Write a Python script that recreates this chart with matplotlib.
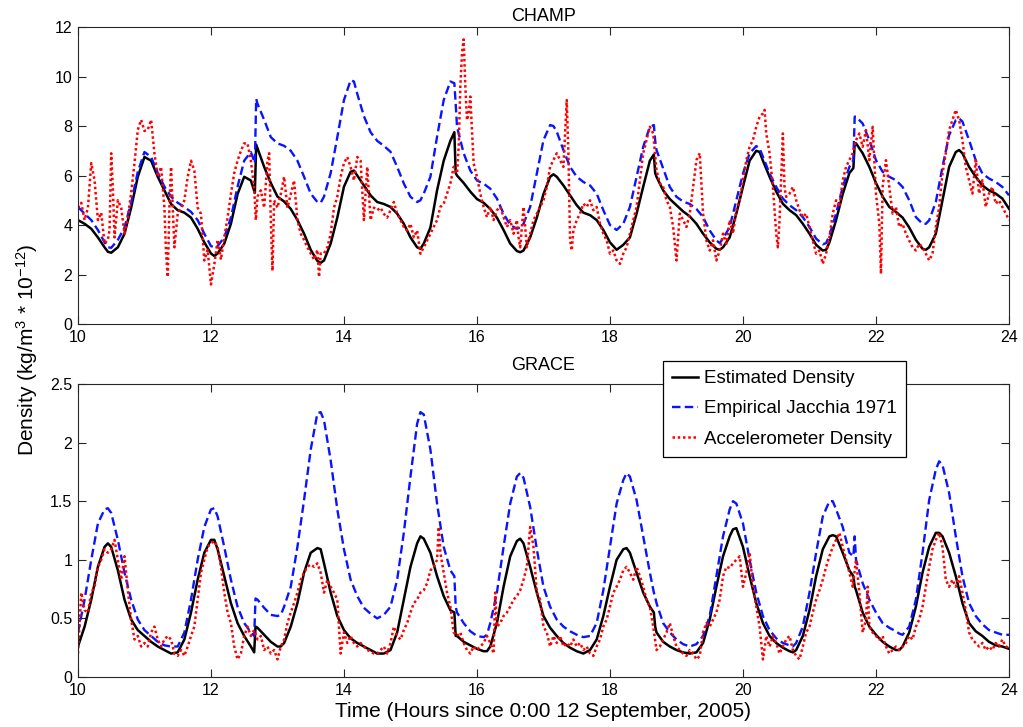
import numpy as np
import matplotlib
matplotlib.use("Agg")
import matplotlib.pyplot as plt

plt.rcParams['font.family'] = ['Liberation Sans', 'DejaVu Sans']
plt.rcParams['mathtext.fontset'] = 'custom'
plt.rcParams['mathtext.rm'] = 'Liberation Sans'
plt.rcParams['mathtext.it'] = 'Liberation Sans:italic'

# ---------------- CHAMP (density in 1e-12 kg/m^3) ----------------
champ_t = [
    10.0, 10.1, 10.2, 10.3, 10.4, 10.45, 10.5, 10.6, 10.7, 10.8, 10.9, 11.0, 11.1, 11.2, 11.3,
    11.4, 11.5, 11.6, 11.7, 11.8, 11.9, 12.0, 12.05, 12.1, 12.2, 12.3, 12.4, 12.5, 12.6, 12.66,
    12.68, 12.7, 12.8, 12.9, 13.0, 13.1, 13.2, 13.3, 13.4, 13.5, 13.6, 13.65, 13.7, 13.8, 13.9,
    14.0, 14.1, 14.15, 14.2, 14.3, 14.4, 14.5, 14.6, 14.7, 14.8, 14.9, 15.0, 15.1, 15.15, 15.2,
    15.3, 15.4, 15.5, 15.6, 15.66, 15.68, 15.7, 15.8, 15.9, 16.0, 16.1, 16.2, 16.3, 16.4, 16.5,
    16.6, 16.65, 16.7, 16.8, 16.9, 17.0, 17.1, 17.15, 17.2, 17.3, 17.4, 17.5, 17.6, 17.7, 17.8,
    17.9, 18.0, 18.1, 18.2, 18.3, 18.4, 18.5, 18.6, 18.66, 18.68, 18.7, 18.8, 18.9, 19.0, 19.1,
    19.2, 19.3, 19.4, 19.5, 19.6, 19.65, 19.7, 19.8, 19.9, 20.0, 20.1, 20.2, 20.25, 20.3, 20.4,
    20.5, 20.6, 20.7, 20.8, 20.9, 21.0, 21.1, 21.2, 21.25, 21.3, 21.4, 21.5, 21.6, 21.66, 21.68,
    21.7, 21.8, 21.9, 22.0, 22.1, 22.2, 22.3, 22.4, 22.5, 22.6, 22.7, 22.75, 22.8, 22.9, 23.0,
    23.1, 23.2, 23.25, 23.3, 23.4, 23.5, 23.6, 23.7, 23.8, 23.9, 24.0]
champ_est = [
    4.2, 4.05, 3.85, 3.5, 3.1, 2.92, 2.88, 3.1, 3.65, 4.7, 5.95, 6.75, 6.6, 5.95, 5.4,
    4.85, 4.6, 4.5, 4.3, 3.85, 3.3, 2.85, 2.75, 2.85, 3.25, 4.05, 5.25, 5.95, 5.8, 5.3,
    7.25, 7.1, 6.35, 5.7, 5.15, 4.95, 4.65, 4.2, 3.65, 3.0, 2.55, 2.47, 2.57, 3.25, 4.3,
    5.55, 6.15, 6.2, 6.0, 5.6, 5.2, 4.93, 4.85, 4.73, 4.46, 4.05, 3.5, 3.1, 3.04, 3.25,
    3.9, 5.4, 6.6, 7.4, 7.75, 6.1, 6.0, 5.7, 5.35, 5.05, 4.9, 4.65, 4.3, 3.8, 3.25,
    2.95, 2.9, 2.97, 3.5, 4.3, 5.25, 5.95, 6.05, 5.95, 5.6, 5.2, 4.8, 4.5, 4.4, 4.2,
    3.8, 3.3, 3.0, 3.2, 3.5, 4.46, 5.55, 6.6, 6.85, 6.1, 5.95, 5.4, 5.05, 4.8, 4.55,
    4.35, 4.05, 3.65, 3.3, 3.04, 3.0, 3.1, 3.5, 4.46, 5.55, 6.6, 7.0, 6.95, 6.6, 5.95,
    5.35, 4.86, 4.6, 4.4, 4.05, 3.65, 3.2, 2.97, 3.0, 3.3, 4.2, 5.25, 6.1, 6.3, 7.3,
    7.3, 6.9, 6.35, 5.7, 5.15, 4.73, 4.53, 4.3, 3.9, 3.4, 3.04, 3.0, 3.1, 3.65, 5.0,
    6.35, 6.95, 7.03, 6.9, 6.35, 5.95, 5.6, 5.4, 5.27, 5.07, 4.66]
champ_jacchia = [
    4.73, 4.46, 4.2, 3.8, 3.3, 3.1, 3.08, 3.4, 3.9, 4.9, 6.15, 6.95, 6.75, 6.1, 5.55,
    5.15, 4.9, 4.73, 4.53, 4.2, 3.65, 3.15, 3.1, 3.15, 3.5, 4.3, 5.55, 6.6, 6.95, 6.5,
    9.1, 8.9, 8.25, 7.55, 7.3, 7.2, 7.0, 6.6, 5.95, 5.27, 4.93, 4.9, 5.15, 6.1, 7.55,
    9.05, 9.85, 9.8, 9.3, 8.4, 7.75, 7.4, 7.2, 6.96, 6.35, 5.68, 5.14, 4.93, 5.0, 5.27,
    5.95, 7.57, 9.05, 9.8, 9.73, 8.9, 7.97, 6.9, 6.2, 5.8, 5.67, 5.47, 5.07, 4.46, 4.0,
    3.85, 3.9, 4.05, 4.73, 6.08, 7.43, 8.04, 8.0, 7.77, 7.03, 6.35, 5.95, 5.74, 5.6, 5.27,
    4.6, 4.0, 3.8, 4.05, 4.73, 5.95, 7.16, 7.97, 8.04, 7.4, 7.03, 6.28, 5.54, 5.14, 4.95,
    4.85, 4.65, 4.32, 3.78, 3.38, 3.27, 3.45, 3.92, 5.0, 6.08, 6.9, 7.19, 7.1, 6.76, 6.08,
    5.54, 5.07, 4.8, 4.6, 4.32, 3.92, 3.45, 3.22, 3.27, 3.58, 4.46, 5.54, 6.35, 6.62, 8.38,
    8.38, 8.1, 7.43, 6.62, 6.15, 5.95, 5.81, 5.54, 5.0, 4.32, 4.05, 4.05, 4.19, 4.93, 6.35,
    7.63, 8.24, 8.31, 8.18, 7.43, 6.62, 6.08, 5.88, 5.74, 5.54, 5.2]

champ_acc_t = [
    10.0, 10.05, 10.1, 10.15, 10.2, 10.25, 10.3, 10.35, 10.4, 10.45, 10.475, 10.5, 10.525, 10.55,
    10.6, 10.65, 10.7, 10.75, 10.8, 10.85, 10.9, 10.95, 11.0, 11.05, 11.1, 11.15, 11.2, 11.25,
    11.3, 11.325, 11.35, 11.375, 11.4, 11.45, 11.5, 11.55, 11.6, 11.65, 11.7, 11.75, 11.8, 11.85,
    11.9, 11.95, 12.0, 12.05, 12.1, 12.15, 12.2, 12.25, 12.3, 12.35, 12.4, 12.45, 12.5, 12.55,
    12.6, 12.65, 12.675, 12.7, 12.75, 12.8, 12.85, 12.875, 12.9, 12.925, 12.95, 13.0, 13.05, 13.1,
    13.15, 13.2, 13.25, 13.3, 13.35, 13.4, 13.45, 13.5, 13.55, 13.6, 13.625, 13.65, 13.7, 13.75,
    13.8, 13.85, 13.9, 13.95, 14.0, 14.05, 14.1, 14.15, 14.2, 14.25, 14.3, 14.35, 14.4, 14.45,
    14.5, 14.55, 14.6, 14.65, 14.7, 14.75, 14.8, 14.85, 14.9, 14.95, 15.0, 15.05, 15.1, 15.15,
    15.2, 15.25, 15.3, 15.35, 15.4, 15.45, 15.5, 15.55, 15.6, 15.65, 15.7, 15.725, 15.75, 15.775,
    15.8, 15.825, 15.85, 15.875, 15.9, 15.95, 16.0, 16.05, 16.1, 16.15, 16.2, 16.25, 16.3, 16.35,
    16.4, 16.45, 16.5, 16.55, 16.6, 16.625, 16.65, 16.7, 16.75, 16.8, 16.85, 16.9, 16.95, 17.0,
    17.05, 17.1, 17.15, 17.2, 17.25, 17.3, 17.35, 17.375, 17.4, 17.425, 17.45, 17.5, 17.55, 17.6,
    17.65, 17.7, 17.75, 17.8, 17.85, 17.9, 17.95, 18.0, 18.05, 18.1, 18.15, 18.2, 18.25, 18.3,
    18.35, 18.4, 18.45, 18.5, 18.55, 18.6, 18.65, 18.7, 18.75, 18.8, 18.85, 18.9, 18.95, 19.0,
    19.05, 19.1, 19.15, 19.2, 19.25, 19.3, 19.35, 19.4, 19.45, 19.5, 19.55, 19.6, 19.65, 19.7,
    19.75, 19.8, 19.85, 19.9, 19.95, 20.0, 20.05, 20.1, 20.15, 20.2, 20.25, 20.3, 20.325, 20.35,
    20.4, 20.45, 20.5, 20.525, 20.55, 20.6, 20.625, 20.65, 20.7, 20.75, 20.8, 20.85, 20.9, 20.95,
    21.0, 21.05, 21.1, 21.15, 21.2, 21.25, 21.3, 21.35, 21.4, 21.45, 21.5, 21.55, 21.6, 21.65,
    21.7, 21.75, 21.8, 21.85, 21.9, 21.95, 22.0, 22.05, 22.075, 22.1, 22.15, 22.2, 22.25, 22.3,
    22.35, 22.4, 22.45, 22.5, 22.55, 22.6, 22.65, 22.7, 22.75, 22.8, 22.85, 22.9, 22.95, 23.0,
    23.05, 23.1, 23.15, 23.2, 23.25, 23.3, 23.35, 23.4, 23.45, 23.5, 23.55, 23.6, 23.65, 23.7,
    23.75, 23.8, 23.85, 23.9, 23.95, 24.0]
champ_acc = [
    4.7, 4.9, 4.2, 4.7, 6.5, 5.8, 4.2, 4.5, 3.25, 3.4, 3.8, 6.9, 5.5, 3.5,
    5.0, 4.7, 3.65, 4.3, 5.3, 6.5, 7.85, 8.25, 7.8, 7.85, 8.25, 6.9, 5.95, 6.35,
    4.7, 2.85, 1.9, 4.7, 6.35, 3.1, 4.45, 4.7, 5.0, 5.95, 6.6, 6.2, 4.7, 4.45,
    2.57, 3.0, 1.6, 2.4, 3.4, 2.6, 3.5, 4.3, 5.25, 6.1, 6.6, 7.0, 7.3, 7.3,
    6.6, 5.5, 4.2, 5.15, 5.4, 4.7, 6.6, 6.9, 4.2, 2.15, 5.0, 4.7, 5.25, 5.95,
    4.7, 5.25, 5.8, 4.2, 3.65, 3.4, 3.1, 2.85, 2.6, 3.0, 1.9, 2.85, 2.85, 3.1,
    3.65, 4.7, 5.15, 5.95, 6.5, 6.75, 6.35, 5.8, 6.75, 6.6, 4.2, 6.35, 4.2, 4.7,
    4.6, 4.7, 4.45, 4.3, 4.6, 4.93, 4.46, 4.2, 3.92, 3.78, 4.05, 3.5, 3.78, 2.84,
    3.1, 3.38, 3.65, 3.92, 4.2, 4.73, 4.86, 5.27, 5.68, 6.35, 6.08, 7.16, 9.6, 10.95,
    11.5, 9.6, 8.24, 8.5, 9.19, 6.49, 5.95, 5.27, 4.73, 4.32, 4.73, 4.2, 4.6, 4.73,
    4.32, 3.92, 4.2, 3.65, 4.2, 3.5, 3.1, 4.73, 3.1, 3.65, 4.2, 4.46, 4.73, 5.0,
    5.54, 6.35, 6.62, 6.9, 6.62, 6.35, 9.05, 6.9, 3.38, 2.97, 3.78, 4.2, 4.46, 4.86,
    4.73, 5.0, 4.6, 4.73, 4.05, 3.65, 3.38, 2.84, 2.97, 2.57, 2.43, 2.84, 3.1, 3.65,
    4.2, 4.73, 5.81, 6.9, 7.43, 7.97, 7.7, 6.22, 5.68, 5.54, 5.0, 4.73, 3.92, 2.57,
    4.46, 4.2, 3.92, 4.46, 5.54, 6.62, 6.9, 4.46, 3.38, 2.97, 3.38, 2.57, 2.97, 3.65,
    3.24, 4.2, 3.65, 4.6, 5.0, 5.81, 6.62, 7.16, 7.43, 7.97, 8.38, 8.51, 8.65, 7.7,
    6.9, 5.54, 3.65, 3.1, 4.2, 7.7, 5.5, 5.14, 5.27, 5.54, 5.0, 4.6, 4.32, 4.46,
    3.92, 3.38, 2.84, 2.97, 2.43, 2.84, 3.51, 4.46, 5.0, 4.73, 5.81, 6.35, 6.62, 6.9,
    7.43, 7.7, 7.16, 7.84, 6.62, 7.97, 5.27, 4.05, 2.03, 5.54, 6.62, 5.54, 4.46, 4.73,
    3.92, 4.05, 3.65, 3.38, 3.1, 2.97, 3.24, 3.1, 2.84, 2.57, 2.84, 3.92, 4.73, 6.08,
    6.9, 7.84, 8.24, 8.65, 8.24, 7.43, 6.35, 5.81, 5.27, 6.62, 5.27, 5.81, 4.73, 5.27,
    5.54, 4.86, 5.0, 4.73, 4.46, 4.2]

# ---------------- GRACE (density in 1e-12 kg/m^3) ----------------
grace_t = [
    10.0, 10.1, 10.2, 10.3, 10.4, 10.45, 10.5, 10.6, 10.7, 10.8, 10.9, 11.0, 11.1, 11.2, 11.3,
    11.4, 11.5, 11.6, 11.7, 11.8, 11.9, 12.0, 12.05, 12.1, 12.2, 12.3, 12.4, 12.5, 12.6, 12.65,
    12.67, 12.7, 12.8, 12.9, 13.0, 13.05, 13.1, 13.2, 13.3, 13.4, 13.5, 13.6, 13.65, 13.7, 13.8,
    13.9, 14.0, 14.1, 14.2, 14.3, 14.4, 14.5, 14.6, 14.7, 14.8, 14.9, 15.0, 15.1, 15.15, 15.2,
    15.3, 15.4, 15.5, 15.6, 15.66, 15.68, 15.7, 15.8, 15.9, 16.0, 16.1, 16.15, 16.2, 16.3, 16.4,
    16.5, 16.6, 16.65, 16.7, 16.8, 16.9, 17.0, 17.1, 17.2, 17.3, 17.4, 17.5, 17.6, 17.7, 17.8,
    17.9, 18.0, 18.1, 18.2, 18.25, 18.3, 18.4, 18.5, 18.6, 18.66, 18.68, 18.7, 18.8, 18.9, 19.0,
    19.1, 19.2, 19.3, 19.4, 19.5, 19.6, 19.7, 19.8, 19.85, 19.9, 20.0, 20.1, 20.2, 20.3, 20.4,
    20.5, 20.6, 20.7, 20.75, 20.8, 20.9, 21.0, 21.1, 21.2, 21.3, 21.35, 21.4, 21.5, 21.6, 21.66,
    21.68, 21.7, 21.8, 21.9, 22.0, 22.1, 22.2, 22.3, 22.35, 22.4, 22.5, 22.6, 22.7, 22.8, 22.9,
    22.95, 23.0, 23.1, 23.2, 23.3, 23.4, 23.5, 23.6, 23.7, 23.8, 23.9, 24.0]
grace_est = [
    0.26, 0.43, 0.66, 0.94, 1.11, 1.14, 1.11, 0.91, 0.66, 0.49, 0.40, 0.35, 0.30, 0.26, 0.23,
    0.20, 0.21, 0.32, 0.55, 0.83, 1.06, 1.17, 1.17, 1.09, 0.86, 0.63, 0.46, 0.35, 0.26, 0.21,
    0.43, 0.42, 0.36, 0.30, 0.26, 0.26, 0.29, 0.43, 0.63, 0.89, 1.06, 1.10, 1.09, 0.97, 0.72,
    0.52, 0.40, 0.33, 0.29, 0.26, 0.23, 0.20, 0.20, 0.23, 0.38, 0.66, 0.94, 1.14, 1.20, 1.18,
    1.06, 0.86, 0.69, 0.57, 0.55, 0.35, 0.35, 0.30, 0.27, 0.24, 0.22, 0.22, 0.26, 0.46, 0.77,
    1.03, 1.16, 1.18, 1.14, 0.94, 0.72, 0.52, 0.42, 0.35, 0.29, 0.25, 0.22, 0.20, 0.23, 0.32,
    0.52, 0.77, 1.00, 1.09, 1.10, 1.06, 0.89, 0.72, 0.60, 0.55, 0.43, 0.38, 0.30, 0.26, 0.23,
    0.21, 0.20, 0.21, 0.29, 0.49, 0.77, 1.03, 1.20, 1.26, 1.27, 1.11, 0.86, 0.63, 0.46, 0.35,
    0.29, 0.25, 0.22, 0.21, 0.23, 0.35, 0.57, 0.86, 1.09, 1.20, 1.21, 1.20, 1.06, 0.91, 0.86,
    0.77, 0.74, 0.55, 0.43, 0.36, 0.30, 0.26, 0.23, 0.23, 0.26, 0.38, 0.60, 0.89, 1.11, 1.23,
    1.23, 1.20, 1.06, 0.86, 0.63, 0.46, 0.39, 0.35, 0.30, 0.27, 0.26, 0.24]
grace_jacchia = [
    0.38, 0.66, 1.00, 1.31, 1.43, 1.44, 1.40, 1.17, 0.89, 0.66, 0.49, 0.40, 0.35, 0.30, 0.27,
    0.26, 0.26, 0.38, 0.66, 1.00, 1.28, 1.43, 1.44, 1.37, 1.11, 0.83, 0.60, 0.46, 0.38, 0.35,
    0.67, 0.66, 0.59, 0.53, 0.52, 0.53, 0.60, 0.77, 1.11, 1.51, 1.94, 2.25, 2.26, 2.19, 1.85,
    1.43, 1.09, 0.83, 0.69, 0.59, 0.54, 0.50, 0.53, 0.60, 0.83, 1.23, 1.71, 2.16, 2.26, 2.24,
    1.94, 1.48, 1.11, 0.91, 0.86, 0.60, 0.55, 0.46, 0.39, 0.35, 0.34, 0.36, 0.46, 0.72, 1.11,
    1.48, 1.71, 1.74, 1.70, 1.45, 1.09, 0.77, 0.60, 0.49, 0.43, 0.39, 0.36, 0.34, 0.35, 0.46,
    0.74, 1.11, 1.48, 1.68, 1.74, 1.71, 1.51, 1.20, 0.89, 0.72, 0.68, 0.63, 0.46, 0.38, 0.32,
    0.28, 0.26, 0.28, 0.35, 0.52, 0.86, 1.20, 1.43, 1.50, 1.48, 1.31, 1.00, 0.72, 0.52, 0.40,
    0.33, 0.29, 0.27, 0.26, 0.29, 0.43, 0.72, 1.06, 1.37, 1.50, 1.50, 1.43, 1.28, 1.06, 1.03,
    1.20, 1.00, 0.80, 0.66, 0.55, 0.46, 0.42, 0.39, 0.37, 0.36, 0.43, 0.66, 1.06, 1.51, 1.77,
    1.84, 1.81, 1.57, 1.20, 0.86, 0.63, 0.52, 0.45, 0.40, 0.38, 0.36, 0.36]

grace_acc_t = [
    10.0, 10.05, 10.1, 10.15, 10.2, 10.25, 10.3, 10.35, 10.4, 10.45, 10.5, 10.55, 10.6, 10.65,
    10.7, 10.75, 10.8, 10.85, 10.9, 10.95, 11.0, 11.05, 11.1, 11.15, 11.2, 11.25, 11.3, 11.35,
    11.4, 11.45, 11.5, 11.55, 11.6, 11.65, 11.7, 11.75, 11.8, 11.85, 11.9, 11.95, 12.0, 12.05,
    12.1, 12.15, 12.2, 12.25, 12.3, 12.35, 12.4, 12.45, 12.5, 12.55, 12.6, 12.65, 12.7, 12.75,
    12.8, 12.85, 12.9, 12.95, 13.0, 13.05, 13.1, 13.15, 13.2, 13.25, 13.3, 13.35, 13.4, 13.45,
    13.5, 13.55, 13.6, 13.65, 13.7, 13.75, 13.8, 13.85, 13.9, 13.95, 14.0, 14.05, 14.1, 14.15,
    14.2, 14.25, 14.3, 14.35, 14.4, 14.45, 14.5, 14.55, 14.6, 14.65, 14.7, 14.75, 14.8, 14.85,
    14.9, 14.95, 15.0, 15.05, 15.1, 15.15, 15.2, 15.25, 15.3, 15.35, 15.4, 15.425, 15.45, 15.5,
    15.55, 15.6, 15.65, 15.7, 15.75, 15.8, 15.85, 15.9, 15.95, 16.0, 16.05, 16.1, 16.15, 16.2,
    16.25, 16.275, 16.3, 16.35, 16.4, 16.45, 16.5, 16.55, 16.6, 16.65, 16.7, 16.75, 16.8, 16.85,
    16.9, 16.95, 17.0, 17.05, 17.1, 17.15, 17.2, 17.25, 17.3, 17.35, 17.4, 17.45, 17.5, 17.55,
    17.6, 17.65, 17.7, 17.75, 17.8, 17.85, 17.9, 17.95, 18.0, 18.05, 18.1, 18.15, 18.2, 18.25,
    18.3, 18.35, 18.4, 18.45, 18.5, 18.55, 18.6, 18.65, 18.7, 18.75, 18.8, 18.85, 18.9, 18.95,
    19.0, 19.05, 19.1, 19.15, 19.2, 19.25, 19.3, 19.35, 19.4, 19.45, 19.5, 19.55, 19.6, 19.65,
    19.7, 19.75, 19.8, 19.85, 19.9, 19.95, 20.0, 20.05, 20.1, 20.15, 20.2, 20.25, 20.3, 20.35,
    20.4, 20.45, 20.5, 20.55, 20.6, 20.65, 20.7, 20.75, 20.8, 20.85, 20.9, 20.95, 21.0, 21.05,
    21.1, 21.15, 21.2, 21.25, 21.3, 21.35, 21.4, 21.45, 21.5, 21.55, 21.6, 21.65, 21.7, 21.75,
    21.8, 21.85, 21.875, 21.9, 21.95, 22.0, 22.05, 22.1, 22.15, 22.2, 22.25, 22.3, 22.35, 22.4,
    22.45, 22.5, 22.55, 22.6, 22.65, 22.7, 22.75, 22.8, 22.85, 22.9, 22.95, 23.0, 23.05, 23.1,
    23.15, 23.2, 23.25, 23.3, 23.35, 23.4, 23.45, 23.5, 23.55, 23.6, 23.65, 23.7, 23.75, 23.8,
    23.85, 23.9, 23.95, 24.0]
grace_acc = [
    0.20, 0.72, 0.57, 0.55, 0.72, 0.77, 0.94, 1.00, 1.09, 1.06, 1.09, 1.17, 1.00, 0.83,
    1.03, 0.74, 0.49, 0.32, 0.35, 0.26, 0.29, 0.26, 0.38, 0.43, 0.32, 0.26, 0.32, 0.35,
    0.32, 0.20, 0.18, 0.23, 0.18, 0.26, 0.35, 0.43, 0.66, 0.89, 1.00, 1.11, 1.14, 1.16,
    1.11, 0.94, 0.72, 0.55, 0.46, 0.26, 0.15, 0.20, 0.35, 0.43, 0.35, 0.40, 0.32, 0.35,
    0.23, 0.26, 0.20, 0.23, 0.15, 0.26, 0.32, 0.46, 0.55, 0.63, 0.72, 0.83, 0.89, 0.94,
    0.96, 0.94, 0.97, 0.89, 0.72, 0.83, 0.77, 0.72, 0.66, 0.20, 0.38, 0.29, 0.35, 0.29,
    0.26, 0.29, 0.26, 0.23, 0.22, 0.20, 0.20, 0.23, 0.26, 0.20, 0.29, 0.43, 0.35, 0.32,
    0.40, 0.46, 0.55, 0.63, 0.66, 0.72, 0.74, 0.80, 0.91, 0.94, 1.00, 1.28, 1.06, 0.89,
    0.72, 0.60, 0.38, 0.35, 0.38, 0.29, 0.23, 0.20, 0.26, 0.23, 0.26, 0.29, 0.35, 0.29,
    0.20, 0.72, 0.43, 0.46, 0.52, 0.55, 0.60, 0.66, 0.69, 0.74, 0.83, 0.94, 1.28, 1.11,
    0.72, 0.66, 0.43, 0.38, 0.26, 0.35, 0.29, 0.35, 0.26, 0.29, 0.26, 0.32, 0.26, 0.29,
    0.23, 0.26, 0.20, 0.18, 0.26, 0.32, 0.43, 0.49, 0.60, 0.72, 0.77, 0.83, 0.91, 0.94,
    0.89, 0.83, 0.94, 0.86, 0.77, 0.66, 0.60, 0.43, 0.23, 0.26, 0.32, 0.38, 0.46, 0.35,
    0.26, 0.23, 0.20, 0.18, 0.23, 0.20, 0.15, 0.18, 0.38, 0.46, 0.43, 0.49, 0.55, 0.66,
    0.86, 0.94, 0.93, 0.97, 1.00, 1.03, 0.77, 0.89, 1.06, 0.77, 0.60, 0.43, 0.15, 0.35,
    0.26, 0.35, 0.29, 0.20, 0.26, 0.32, 0.35, 0.23, 0.18, 0.15, 0.26, 0.38, 0.43, 0.55,
    0.66, 0.74, 0.83, 0.94, 1.03, 1.11, 1.17, 1.23, 1.11, 1.00, 0.89, 0.77, 1.00, 0.72,
    0.38, 0.49, 0.77, 0.43, 0.38, 0.35, 0.32, 0.35, 0.26, 0.20, 0.23, 0.26, 0.23, 0.26,
    0.29, 0.35, 0.32, 0.43, 0.49, 0.60, 0.77, 0.94, 1.09, 1.17, 1.23, 1.11, 0.83, 0.77,
    0.83, 0.77, 0.86, 0.72, 0.57, 0.38, 0.32, 0.29, 0.26, 0.29, 0.23, 0.26, 0.23, 0.29,
    0.26, 0.32, 0.26, 0.25]

series_labels = ['Estimated Density', 'Empirical Jacchia 1971', 'Accelerometer Density']
x_ticks = [10, 12, 14, 16, 18, 20, 22, 24]
champ_yticks = [0, 2, 4, 6, 8, 10, 12]
grace_yticks = [0, 0.5, 1, 1.5, 2, 2.5]
grace_yticklabels = ['0', '0.5', '1', '1.5', '2', '2.5']

EDGE = '#262626'


def style_axes(ax):
    ax.set_xlim(10, 24)
    ax.set_xticks(x_ticks)
    ax.tick_params(direction='in', length=6, width=0.8, colors=EDGE,
                   labelcolor='black', labelsize=11.5, top=True, right=True, pad=4)
    for sp in ax.spines.values():
        sp.set_color(EDGE)
        sp.set_linewidth(0.8)


def draw_series(ax, t, est, jac, acc_t, acc):
    ax.plot(t, est, color='black', lw=1.8, solid_joinstyle='round')
    ax.plot(t, jac, color='#0a14ff', lw=1.7, linestyle=(0, (3.6, 1.8)))
    ax.plot(acc_t, acc, color='#ff0000', lw=1.8, linestyle=(0, (1, 1.1)))


fig = plt.figure(figsize=(10.23, 7.27), dpi=100)
ax1 = fig.add_axes([0.0762, 0.5543, 0.9101, 0.4085])
ax2 = fig.add_axes([0.0762, 0.0688, 0.9101, 0.4030])

draw_series(ax1, champ_t, champ_est, champ_jacchia, champ_acc_t, champ_acc)
style_axes(ax1)
ax1.set_ylim(0, 12)
ax1.set_yticks(champ_yticks)
ax1.set_title('CHAMP', fontsize=13, pad=4)

draw_series(ax2, grace_t, grace_est, grace_jacchia, grace_acc_t, grace_acc)
style_axes(ax2)
ax2.set_ylim(0, 2.5)
ax2.set_yticks(grace_yticks)
ax2.set_yticklabels(grace_yticklabels)
ax2.set_title('GRACE', fontsize=13, pad=10)
ax2.set_xlabel('Time (Hours since 0:00 12 September, 2005)', fontsize=15, labelpad=3.5)

leg = ax2.legend(ax2.get_lines(), series_labels, loc='upper right',
                 bbox_to_anchor=(906 / 1023, 1 - 361 / 727), bbox_transform=fig.transFigure,
                 fontsize=13.5, frameon=True, fancybox=False, framealpha=1,
                 edgecolor='black', handlelength=1.4, handletextpad=0.32,
                 labelspacing=0.7, borderpad=0.48, borderaxespad=0)
leg.get_frame().set_linewidth(0.9)
leg.set_zorder(10)

fig.text(27 / 1023, 1 - 350 / 727, r'Density (kg/m$^3$ * 10$^{-12}$)', rotation=90,
         ha='center', va='center', fontsize=15)

fig.savefig('out.png', dpi=100, facecolor='white')
